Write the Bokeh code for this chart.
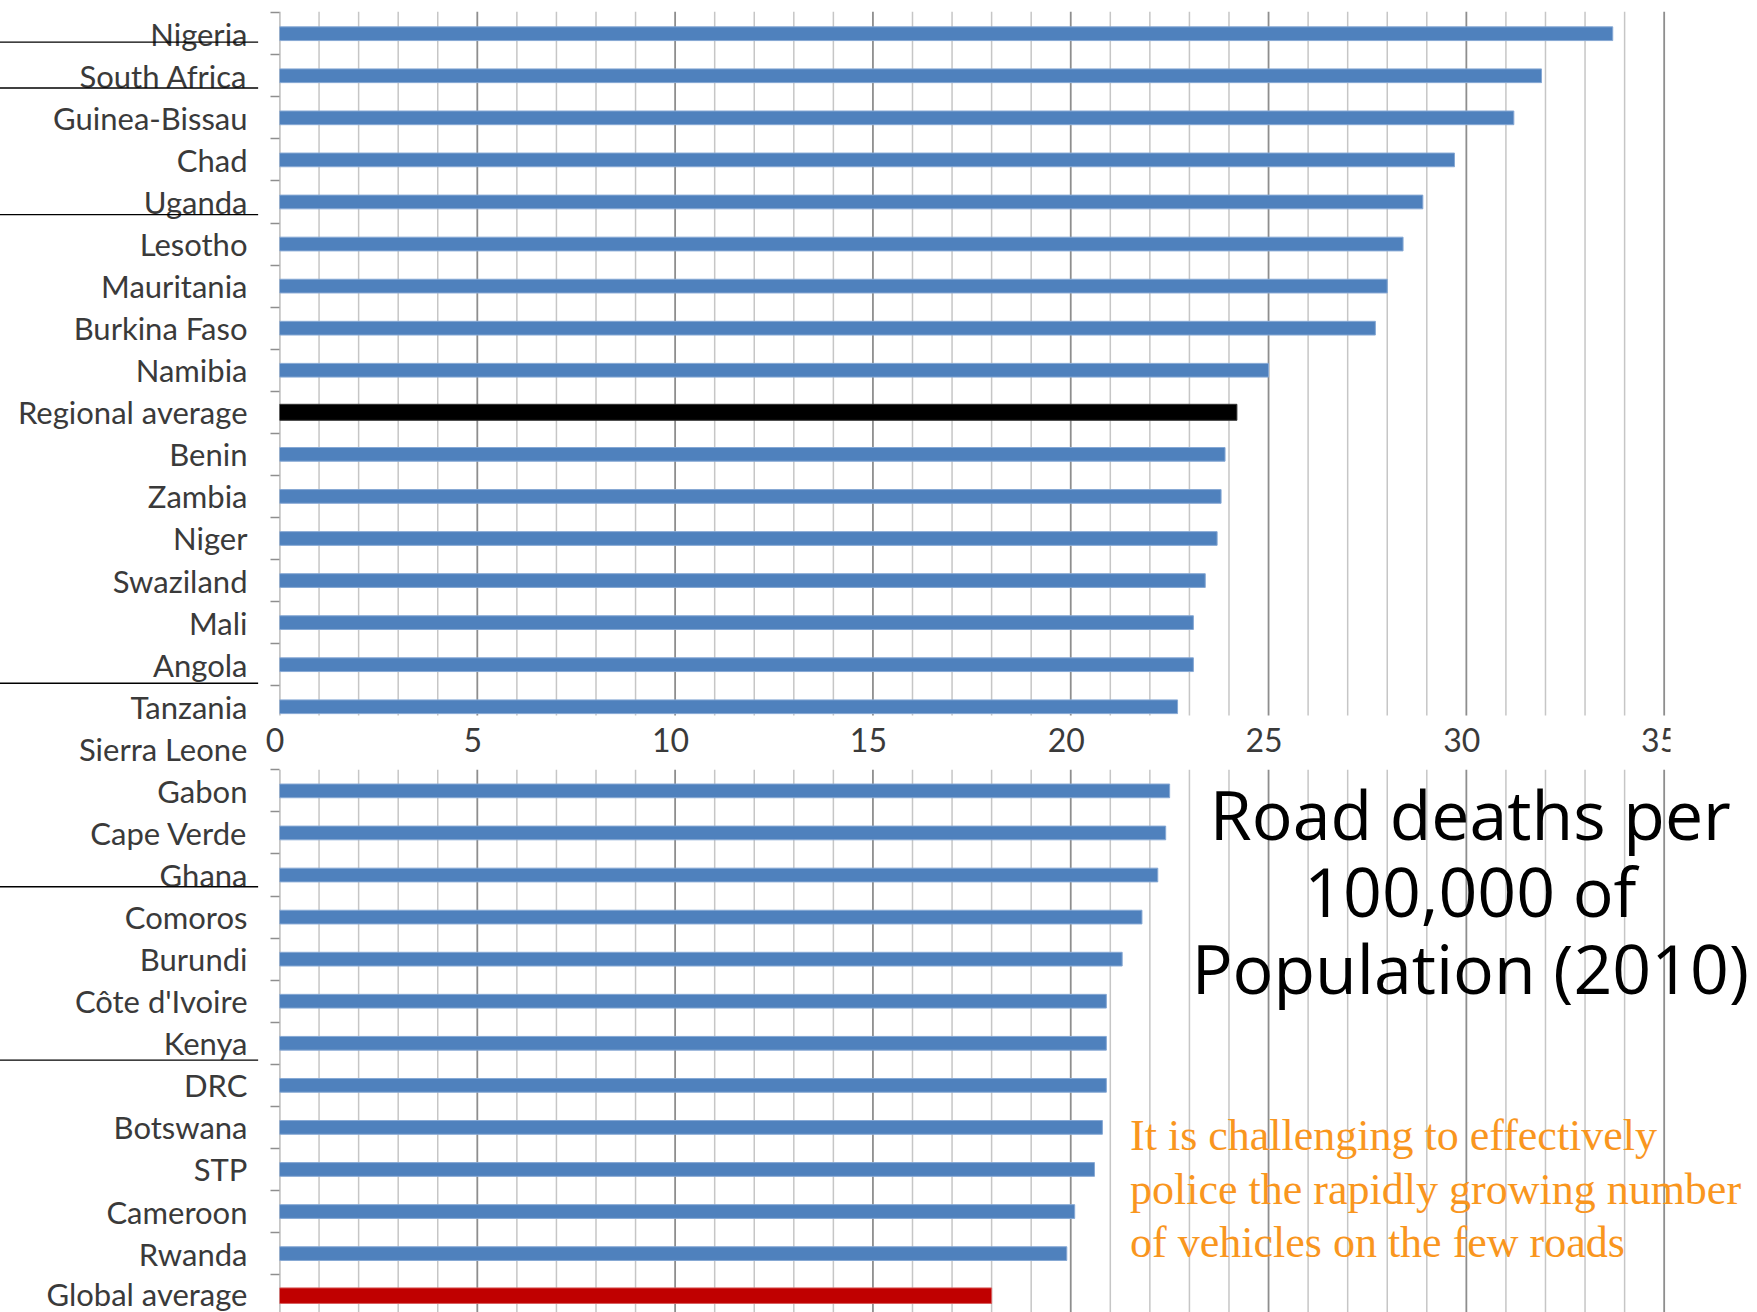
from bokeh.plotting import figure
from bokeh.models import Range1d, FixedTicker, ColumnDataSource
from bokeh.embed import file_html
from bokeh.resources import INLINE
from bokeh.core.properties import value

# ---------------- data ----------------
countries = ["Nigeria", "South Africa", "Guinea-Bissau", "Chad", "Uganda", "Lesotho",
             "Mauritania", "Burkina Faso", "Namibia", "Regional average", "Benin", "Zambia",
             "Niger", "Swaziland", "Mali", "Angola", "Tanzania", "Sierra Leone", "Gabon",
             "Cape Verde", "Ghana", "Comoros", "Burundi", "Côte d'Ivoire", "Kenya", "DRC",
             "Botswana", "STP", "Cameroon", "Rwanda", "Global average"]
# road deaths per 100,000 population (2010); Sierra Leone's bar is hidden in the picture
deaths = [33.7, 31.9, 31.2, 29.7, 28.9, 28.4, 28.0, 27.7, 25.0, 24.2, 23.9, 23.8,
          23.7, 23.4, 23.1, 23.1, 22.7, float("nan"), 22.5, 22.4, 22.2, 21.8, 21.3,
          20.9, 20.9, 20.9, 20.8, 20.6, 20.1, 19.9, 18.0]
x_ticks = [0, 5, 10, 15, 20, 25, 30, 35]
underlined = ["Nigeria", "South Africa", "Uganda", "Angola", "Ghana", "Kenya"]
title_lines = ["Road deaths per", "100,000 of", "Population (2010)"]
note_lines = ["It is challenging  to effectively",
              "police the rapidly growing number",
              "of vehicles on the few roads"]
gap_row = countries.index("Sierra Leone")   # row that carries the upper chart's x labels

# ---------------- styles ----------------
BLUE, BLACK, RED = "#4F81BD", "#000000", "#C00000"
LABEL_COLOR = "#3a3a3a"
MINOR_GRID, MAJOR_GRID = "#C6C6C6", "#8E8E8E"
ORANGE = "#F9961E"
# vertical offset (in rows) of each hand-drawn underline below its label
UNDERLINE_SHIFT = {"Nigeria": 0.2, "South Africa": 0.29, "Uganda": 0.3,
                   "Angola": 0.44, "Ghana": 0.28, "Kenya": 0.4}

n = len(countries)
rows = list(range(n))
colors, heights, lines = [], [], []
for c in countries:
    if c == "Regional average":
        colors.append(BLACK); heights.append(0.38); lines.append("#333333")
    elif c == "Global average":
        colors.append(RED); heights.append(0.37); lines.append("#D86060")
    else:
        colors.append(BLUE); heights.append(0.326); lines.append("#86A8D4")

X_MAX = 35.16
Y_TOP, Y_BOTTOM = -0.528, 30.40
TOP_END = 16.21          # upper chart is cut just below Tanzania
BOTTOM_START = gap_row + 0.5

p = figure(width=1757, height=1312,
           x_range=Range1d(0, X_MAX), y_range=Range1d(Y_BOTTOM, Y_TOP),
           x_axis_location=None, y_axis_location="left",
           output_backend="svg", toolbar_location=None,
           min_border_left=279, min_border_right=87,
           min_border_top=11, min_border_bottom=0)
p.outline_line_color = None
p.xgrid.visible = False
p.ygrid.visible = False
p.background_fill_color = "white"
p.border_fill_color = "white"

# ---- vertical grid lines, broken at the gap row ----
gx0, gy0, gx1, gy1, gc, gw = [], [], [], [], [], []
for xv in range(0, 36):
    major = (xv % 5 == 0)
    for (a, b) in [(Y_TOP, TOP_END), (BOTTOM_START, Y_BOTTOM)]:
        gx0.append(xv); gx1.append(xv); gy0.append(a); gy1.append(b)
        gc.append(MAJOR_GRID if major else MINOR_GRID)
        gw.append(1.8 if major else 1.5)
p.segment(x0=gx0, y0=gy0, x1=gx1, y1=gy1, line_color=gc, line_width=gw)

# ---- bars ----
src = ColumnDataSource(dict(y=rows, v=deaths, h=heights, c=colors, lc=lines))
p.hbar(y="y", left=0, right="v", height="h", fill_color="c", line_color="lc",
       line_width=1, source=src)

# ---- y axis: country labels, ticks between categories ----
top_bounds = [i - 0.5 for i in range(0, gap_row)]
bottom_bounds = [i - 0.5 for i in range(gap_row + 1, n)]
ax = p.yaxis[0]
ax.ticker = FixedTicker(ticks=rows, minor_ticks=top_bounds + bottom_bounds)
ax.major_label_overrides = {i: c for i, c in enumerate(countries)}
ax.axis_line_color = None
ax.major_tick_line_color = None
ax.major_tick_in = 0
ax.major_tick_out = 0
ax.minor_tick_in = 0
ax.minor_tick_out = 9
ax.minor_tick_line_color = MAJOR_GRID
ax.minor_tick_line_width = 1.5
ax.major_label_standoff = 23
ax.major_label_text_font = "Lato"
ax.major_label_text_font_size = "31px"
ax.major_label_text_color = LABEL_COLOR

# ---- x tick labels of the upper chart (sit in the gap row) ----
tick_txt = [str(t) for t in x_ticks]
p.text(x=x_ticks[:-1], y=[gap_row] * (len(x_ticks) - 1), text=tick_txt[:-1],
       text_font=value("Lato"), text_font_size="32px", text_color=LABEL_COLOR,
       text_align="center", text_baseline="middle", x_offset=-4.5, y_offset=-9,
       level="overlay")
# the last label is cut by the chart's right edge, as in the original
p.text(x=x_ticks[-1:], y=[gap_row], text=tick_txt[-1:],
       text_font=value("Lato"), text_font_size="32px", text_color=LABEL_COLOR,
       text_align="center", text_baseline="middle", x_offset=-4.5, y_offset=-9)

# ---- underlines beside some labels ----
uy = [countries.index(c) + UNDERLINE_SHIFT[c] for c in underlined]
p.segment(x0=[-7.2] * len(uy), x1=[-0.54] * len(uy), y0=uy, y1=uy,
          line_color="black", line_width=1.4, level="overlay")

# ---- title ----
p.text(x=[30.1] * len(title_lines), y=[18.53 + i * 1.83 for i in range(len(title_lines))],
       text=title_lines, text_align="center", text_baseline="alphabetic",
       text_font=value("Open Sans"), text_font_size="68px", text_color="black",
       level="overlay")

# ---- orange note ----
p.text(x=[21.5] * len(note_lines), y=[26.2 + i * 1.27 for i in range(len(note_lines))],
       text=note_lines, text_align="left", text_baseline="alphabetic",
       text_font=value("Liberation Serif"), text_font_size="44px", text_color=ORANGE,
       level="overlay")

open("out.html", "w").write(file_html(p, INLINE))
